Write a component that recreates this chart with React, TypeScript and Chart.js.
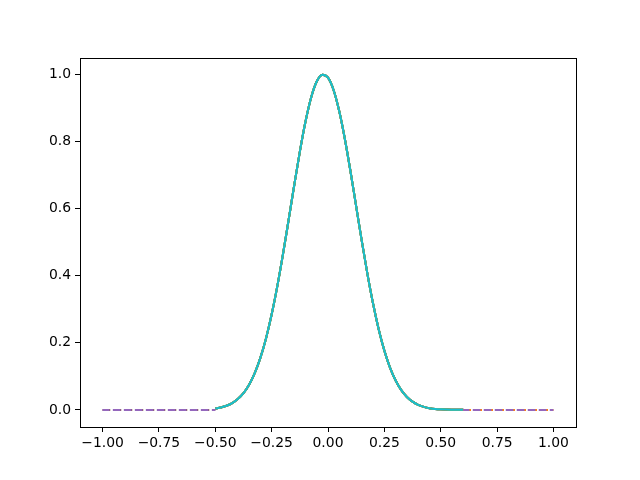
import React, { useEffect, useRef } from "react";
import { Chart, registerables } from "chart.js";

Chart.register(...registerables);

// Peak curve sample positions and values
const curveX = [
  -0.5, -0.475, -0.45, -0.425, -0.4, -0.375, -0.35, -0.325, -0.3, -0.275,
  -0.25, -0.225, -0.2, -0.175, -0.15, -0.125, -0.1, -0.075, -0.05, -0.025,
  0, 0.025, 0.05, 0.075, 0.1, 0.125, 0.15, 0.175, 0.2, 0.225,
  0.25, 0.275, 0.3, 0.325, 0.35, 0.375, 0.4, 0.425, 0.45, 0.475,
  0.5, 0.525, 0.55, 0.575, 0.6,
];
const curveY = [
  0.0042, 0.0073, 0.0123, 0.0202, 0.0323, 0.0499, 0.075, 0.1095, 0.155, 0.2131,
  0.2842, 0.3681, 0.4628, 0.5648, 0.669, 0.7694, 0.8588, 0.9306, 0.9788, 0.9994,
  0.9905, 0.953, 0.89, 0.8069, 0.71, 0.6065, 0.5029, 0.4048, 0.3163, 0.2399,
  0.1766, 0.1262, 0.0876, 0.059, 0.0386, 0.0245, 0.0151, 0.009, 0.0052, 0.0029,
  0.0016, 0.0009, 0.0005, 0.0002, 0.0001,
];

// Flat dashed tails
const leftTailX = [-1.0, -0.5];
const leftTailY = [0.0, 0.0];
const rightTailX = [0.6, 1.0];
const rightTailY = [0.0, 0.0];

const xTicks = [-1.0, -0.75, -0.5, -0.25, 0.0, 0.25, 0.5, 0.75, 1.0];
const yTicks = [0.0, 0.2, 0.4, 0.6, 0.8, 1.0];

// listed bottom-to-top in drawing order
const curveColors = ["#1f77b4", "#2ca02c", "#d62728", "#7f7f7f", "#bcbd22", "#17becf"];
const leftTailColors = ["#8c564b", "#9467bd"];
const rightTailColors = ["#ff7f0e", "#9467bd"];

const pts = (xs: number[], ys: number[]) => xs.map((x, i) => ({ x, y: ys[i] }));
const fmtMinus = (s: string) => s.replace("-", "\u2212");

const framePlugin = {
  id: "frame",
  afterDraw(chart: any) {
    const { ctx, chartArea } = chart;
    ctx.save();
    ctx.strokeStyle = "#000";
    ctx.lineWidth = 1;
    ctx.strokeRect(
      Math.round(chartArea.left) + 0.5,
      Math.round(chartArea.top) + 0.5,
      Math.round(chartArea.right - chartArea.left),
      Math.round(chartArea.bottom - chartArea.top)
    );
    ctx.restore();
  },
};

export default function App() {
  const ref = useRef<HTMLCanvasElement>(null);

  useEffect(() => {
    if (!ref.current) return;
    const datasets: any[] = [];
    curveColors.forEach((c) =>
      datasets.push({
        data: pts(curveX, curveY),
        borderColor: c,
        borderWidth: 2,
        pointRadius: 0,
        cubicInterpolationMode: "monotone",
      })
    );
    leftTailColors.forEach((c, i) =>
      datasets.push({
        data: pts(leftTailX, leftTailY),
        borderColor: c,
        borderWidth: 2,
        borderDash: [7.7, 3.3],
        borderDashOffset: i * 0.7,
        pointRadius: 0,
      })
    );
    rightTailColors.forEach((c, i) =>
      datasets.push({
        data: pts(rightTailX, rightTailY),
        borderColor: c,
        borderWidth: 2,
        borderDash: [7.7, 3.3],
        borderDashOffset: i * 1.5,
        pointRadius: 0,
      })
    );
    // Chart.js draws the first dataset on top, so reverse
    datasets.reverse();

    const font = { family: "DejaVu Sans", size: 13.9 };
    const chart = new Chart(ref.current, {
      type: "line",
      data: { datasets },
      plugins: [framePlugin],
      options: {
        animation: false,
        responsive: false,
        maintainAspectRatio: false,
        layout: { padding: { top: 58, right: 64, left: 0, bottom: 0 } },
        plugins: { legend: { display: false }, tooltip: { enabled: false } },
        elements: { line: { tension: 0, borderCapStyle: "butt" } },
        scales: {
          x: {
            type: "linear",
            min: -1.1,
            max: 1.1,
            afterBuildTicks: (s: any) => {
              s.ticks = xTicks.map((v) => ({ value: v }));
            },
            afterFit: (s: any) => {
              s.height = 53;
            },
            ticks: {
              color: "#000",
              font,
              padding: 3,
              maxRotation: 0,
              autoSkip: false,
              callback: (v: any) => fmtMinus(Number(v).toFixed(2)),
            },
            grid: {
              display: true,
              drawOnChartArea: false,
              drawTicks: true,
              tickLength: 5,
              color: "#000",
            },
            border: { display: false },
          },
          y: {
            type: "linear",
            min: -0.051,
            max: 1.049,
            afterBuildTicks: (s: any) => {
              s.ticks = yTicks.map((v) => ({ value: v }));
            },
            afterFit: (s: any) => {
              s.width = 80;
            },
            ticks: {
              color: "#000",
              font,
              padding: 4,
              autoSkip: false,
              callback: (v: any) => fmtMinus(Number(v).toFixed(1)),
            },
            grid: {
              display: true,
              drawOnChartArea: false,
              drawTicks: true,
              tickLength: 5,
              color: "#000",
            },
            border: { display: false },
          },
        },
      },
    });
    return () => chart.destroy();
  }, []);

  return (
    <div style={{ position: "fixed", left: 0, top: 0, width: 640, height: 480, background: "#fff" }}>
      <canvas ref={ref} width={640} height={480} style={{ width: 640, height: 480 }} />
    </div>
  );
}
